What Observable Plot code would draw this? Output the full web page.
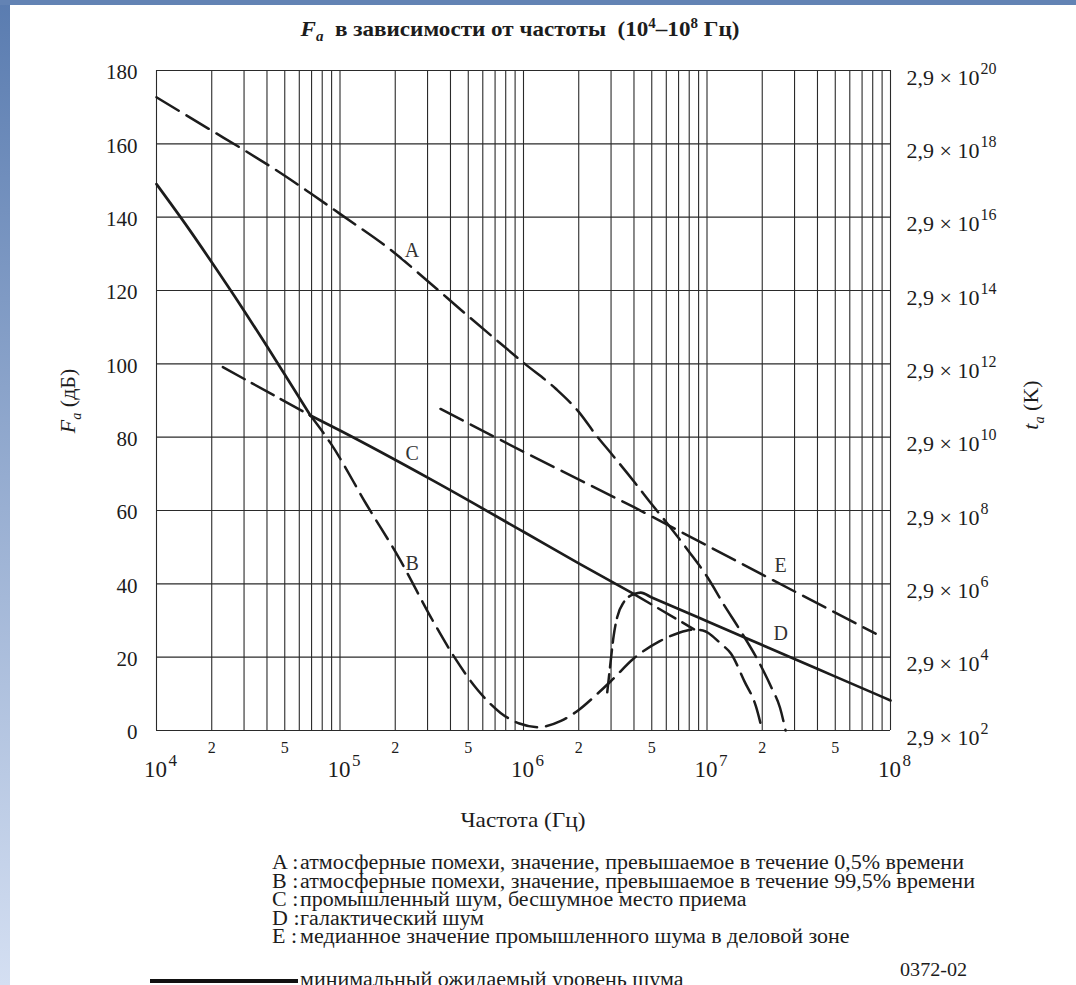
<!DOCTYPE html>
<html>
<head>
<meta charset="utf-8">
<script src="https://cdn.jsdelivr.net/npm/d3@7"></script>
<script src="https://cdn.jsdelivr.net/npm/@observablehq/plot@0.6"></script>
<style>
  html, body { margin: 0; padding: 0; background: #fff; }
  body { width: 1076px; height: 985px; position: relative; overflow: hidden;
         font-family: "Liberation Serif", "Times New Roman", serif; color: #1c1c1c; }
  #edge-left { position: absolute; left: 0; top: 0; width: 10px; height: 985px;
               background: linear-gradient(#5a7cb0, #d4dff2); }
  #edge-top { position: absolute; left: 0; top: 0; width: 1076px; height: 5px; background: #6383b4; }
  #title { position: absolute; top: 16px; left: 520px; transform: translateX(-50%) scaleX(1.1);
           white-space: nowrap; font-weight: bold; font-size: 21px; }
  #chart { position: absolute; left: 0; top: 50px; }
  .axis-title { position: absolute; white-space: nowrap; font-size: 22px;
                transform: translate(-50%, -50%) rotate(-90deg); }
  #xtitle { position: absolute; left: 523px; top: 820px; transform: translate(-50%, -50%) scaleX(1.11);
            font-size: 21px; white-space: nowrap; }
  #legend { position: absolute; left: 272px; top: 0; font-size: 20px; }
  #legend .row { position: absolute; left: 0; height: 20px; line-height: 20px; display: flex;
                 white-space: nowrap; transform: scaleX(1.1); transform-origin: left center; }
  #legend .key { width: 25.5px; }
  #swatch { position: absolute; left: 150px; top: 979px; width: 148px; height: 4px; background: #111; }
  #code { position: absolute; left: 900px; top: 960px; font-size: 18px; line-height: 20px;
          transform: scaleX(1.12); transform-origin: left center; }
  sub, sup { font-size: 65%; }
</style>
</head>
<body>
<div id="edge-left"></div>
<div id="edge-top"></div>
<div id="title"><i>F</i><sub><i>a</i></sub>&nbsp; в зависимости от частоты&nbsp; (10<sup>4</sup>–10<sup>8</sup> Гц)</div>
<div id="chart"></div>
<div class="axis-title" style="left:70px; top:401px;"><i>F<sub>a</sub></i> (дБ)</div>
<div class="axis-title" style="left:1033px; top:405px;"><i>t<sub>a</sub></i> (K)</div>
<div id="xtitle">Частота (Гц)</div>
<div id="legend">
  <div class="row" style="top:852px"><span class="key">A :</span><span>атмосферные помехи, значение, превышаемое в течение 0,5% времени</span></div>
  <div class="row" style="top:870.5px"><span class="key">B :</span><span>атмосферные помехи, значение, превышаемое в течение 99,5% времени</span></div>
  <div class="row" style="top:889px"><span class="key">C :</span><span>промышленный шум, бесшумное место приема</span></div>
  <div class="row" style="top:907.5px"><span class="key">D :</span><span>галактический шум</span></div>
  <div class="row" style="top:926px"><span class="key">E :</span><span>медианное значение промышленного шума в деловой зоне</span></div>
  <div class="row" style="top:969px"><span class="key"></span><span>минимальный ожидаемый уровень шума</span></div>
</div>
<div id="swatch"></div>
<div id="code">0372-02</div>

<script>
// Axis ticks
const decades = [1e4, 1e5, 1e6, 1e7, 1e8];
const minorSteps = [2, 3, 4, 5, 6, 7, 8, 9];
const labelledSteps = [2, 5];
const dbTicks = [0, 20, 40, 60, 80, 100, 120, 140, 160, 180];

// A: atmospheric noise, value exceeded 0.5% of time (dB vs Hz)
const aFreq = [1e4, 2e4, 3e4, 5e4, 7e4, 1e5, 2e5, 3e5, 5e5, 7e5, 1e6, 1.5e6, 2e6, 2.5e6, 3e6,
               4e6, 5e6, 6e6, 8e6, 1e7, 1.25e7, 1.5e7, 2e7, 2.25e7, 2.5e7, 2.68e7];
const aDb   = [172.7, 163.6, 158.3, 151.3, 146.3, 140.9, 130.1, 122.6, 113, 106.8, 100.3, 93.2, 86.9, 80.4, 75.6,
               67.9, 61.7, 56.8, 48.7, 42, 33.9, 27.7, 16.9, 11.6, 6.2, 0];

// B: atmospheric noise, value exceeded 99.5% of time
const bFreq = [1e4, 1.5e4, 2e4, 3e4, 4e4, 5e4, 6.9e4, 8.9e4, 1.4e5, 2.1e5, 3.2e5, 4.2e5, 5.6e5, 7.5e5,
               9.5e5, 1.2e6, 1.6e6, 2e6, 2.5e6, 3e6, 4e6, 5.5e6, 7e6, 8.5e6, 9.5e6, 1.2e7, 1.35e7,
               1.6e7, 1.85e7, 2e7];
const bDb   = [149, 136.8, 127.7, 114.5, 104.8, 97.1, 85.9, 78.3, 61.5, 47, 30, 20, 11.2, 4.8,
               1.9, 0.9, 2.6, 5.6, 9.8, 13.5, 19.7, 24.3, 26.6, 27.5, 27.3, 23.5, 21,
               13.4, 6.5, 0];

// C: man-made noise, quiet receiving site
const cFreq = [2.3e4, 6.9e4, 1e5, 3.2e5, 1e6, 2e6, 4e6, 8.5e6];
const cDb   = [99.1, 85.9, 81.8, 68.2, 54.2, 45.6, 37.2, 27.6];

// D: galactic noise
const dFreq = [2.86e6, 2.98e6, 3.1e6, 3.24e6, 3.52e6, 4e6, 4.35e6, 5e6, 1e7, 1.58e7, 2.85e7, 4.9e7, 1e8];
const dDb   = [10.4, 18.5, 25.8, 30.9, 35, 37.2, 37.6, 36.3, 29.8, 25.5, 20, 14.9, 8.2];

// E: median business-area man-made noise
const eFreq = [3.53e5, 1e6, 4e6, 2.04e7, 8.3e7];
const eDb   = [87.7, 76.0, 60.9, 42.3, 26.4];

// Minimum expected noise follows B, then C, then D
const bcCross = 6.9e4;
const cdJoin = 4e6;

// Curve letters
const curveNames = ["A", "B", "C", "D", "E"];
const nameFreq   = [2.47e5, 2.47e5, 2.47e5, 2.52e7, 2.52e7];
const nameDb     = [130.9, 45.5, 75.5, 26.4, 45];

const pts = (f, v) => f.map((x, i) => ({f: x, db: v[i]}));
const A = pts(aFreq, aDb), B = pts(bFreq, bDb), C = pts(cFreq, cDb), D = pts(dFreq, dDb), E = pts(eFreq, eDb);

const gridFreqs = [
  ...decades,
  ...decades.slice(0, -1).flatMap(d => minorSteps.map(s => d * s))
];
const minorLabels = decades.slice(0, -1).flatMap(d => labelledSteps.map(s => ({f: d * s, s})));
const labels = curveNames.map((n, i) => ({n, f: nameFreq[i], db: nameDb[i]}));

const ink = "#1c1c1c";
const curveStyle = {x: "f", y: "db", stroke: ink, strokeWidth: 2.5, curve: "monotone-x"};
const solid = {...curveStyle, strokeWidth: 2.7};

const chart = Plot.plot({
  width: 1076,
  height: 760,
  marginLeft: 156,
  marginRight: 186,
  marginTop: 20,
  marginBottom: 80,
  style: {fontFamily: "'Liberation Serif', 'Times New Roman', serif", fontSize: "20px", color: ink, background: "transparent"},
  x: {type: "log", domain: [1e4, 1e8], axis: null},
  y: {domain: [0, 180], axis: null},
  marks: [
    Plot.ruleX(gridFreqs, {x: d => d, stroke: "#2a2a2a", strokeWidth: 1.1}),
    Plot.ruleY(dbTicks, {y: d => d, stroke: "#2a2a2a", strokeWidth: 1.1}),

    // dashed curves
    Plot.line(A, {...curveStyle, strokeDasharray: "26,9"}),
    Plot.line(B.filter(p => p.f >= bcCross), {...curveStyle, strokeDasharray: "22,9"}),
    Plot.line(C.filter(p => p.f <= bcCross), {...curveStyle, strokeDasharray: "25,8"}),
    Plot.line(C.filter(p => p.f >= cdJoin), {...curveStyle, strokeDasharray: "20,8"}),
    Plot.line(D.filter(p => p.f <= cdJoin), {...curveStyle, strokeDasharray: "18,7"}),
    Plot.line(E, {...curveStyle, curve: "linear", strokeDasharray: "25,9"}),

    // minimum expected noise level (solid)
    Plot.line(B.filter(p => p.f <= bcCross), solid),
    Plot.line(C.filter(p => p.f >= bcCross && p.f <= cdJoin), solid),
    Plot.line(D.filter(p => p.f >= cdJoin), solid),

    Plot.text(labels, {x: "f", y: "db", text: "n", fontSize: 20, fill: "#333",
                       stroke: "white", strokeWidth: 5, paintOrder: "stroke"}),

    // left scale, dB
    Plot.text(dbTicks, {y: d => d, frameAnchor: "left", textAnchor: "end", dx: -19, dy: 2,
                        text: d => String(d), fontSize: 21}),
    // right scale, noise temperature
    Plot.text(dbTicks, {y: d => d, frameAnchor: "right", textAnchor: "start", dx: 16, dy: 7,
                        text: () => "2,9 × 10", fontSize: 22}),
    Plot.text(dbTicks, {y: d => d, frameAnchor: "right", textAnchor: "start", dx: 90, dy: -2,
                        text: d => String(2 + d / 10), fontSize: 16}),
    // frequency scale
    Plot.text(minorLabels, {x: "f", frameAnchor: "bottom", dy: 22, text: d => String(d.s), fontSize: 16}),
    Plot.text(decades, {x: d => d, frameAnchor: "bottom", dy: 46, dx: -1, text: () => "10", fontSize: 23}),
    Plot.text(decades, {x: d => d, frameAnchor: "bottom", textAnchor: "start", dy: 35, dx: 12,
                        text: d => String(Math.round(Math.log10(d))), fontSize: 17})
  ]
});
document.getElementById("chart").appendChild(chart);
</script>
</body>
</html>
